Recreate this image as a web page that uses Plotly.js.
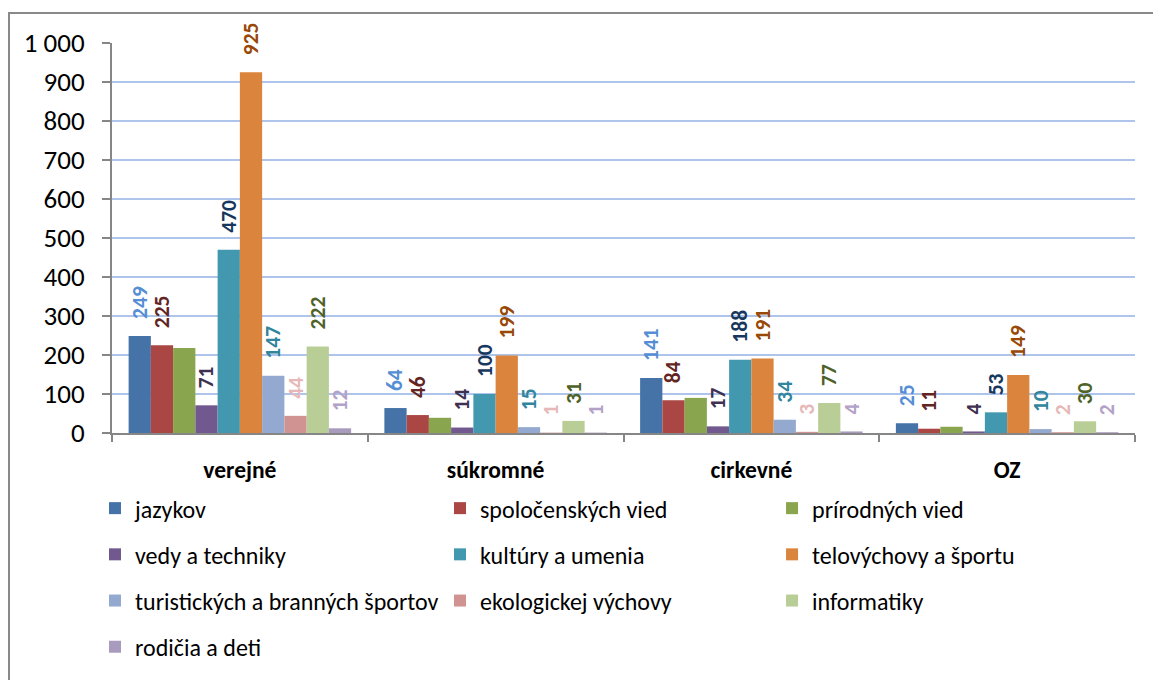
<!DOCTYPE html>
<html>
<head>
<meta charset="utf-8">
<script src="https://cdn.plot.ly/plotly-3.0.1.min.js"></script>
<style>
  html, body { margin: 0; padding: 0; background: #fff; }
  #wrap { position: relative; width: 1153px; height: 680px; overflow: hidden; }
  #chart { width: 1153px; height: 680px; }
  #frame { position: absolute; left: 8px; top: 12px; width: 1200px; height: 700px;
           border-left: 2px solid #898989; border-top: 2px solid #898989; pointer-events: none; }
</style>
</head>
<body>
<div id="wrap">
  <div id="chart"></div>
  <div id="frame"></div>
</div>
<script>
// ---- data ----
const categories = ['verejné', 'súkromné', 'cirkevné', 'OZ'];

const seriesNames = [
  'jazykov', 'spoločenských vied', 'prírodných vied',
  'vedy a techniky', 'kultúry a umenia', 'telovýchovy a športu',
  'turistických a branných športov', 'ekologickej výchovy', 'informatiky',
  'rodičia a deti'
];

const jazykov        = [249, 64, 141, 25];
const spolocenskych  = [225, 46, 84, 11];
const prirodnych     = [218, 39, 90, 16];
const vedy           = [71, 14, 17, 4];
const kultury        = [470, 100, 188, 53];
const telovychovy    = [925, 199, 191, 149];
const turistickych   = [147, 15, 34, 10];
const ekologickej    = [44, 1, 3, 2];
const informatiky    = [222, 31, 77, 30];
const rodicia        = [12, 1, 4, 2];

const seriesValues = [jazykov, spolocenskych, prirodnych, vedy, kultury,
                      telovychovy, turistickych, ekologickej, informatiky, rodicia];

// ---- styles ----
const barColors = ['#4572A7', '#AA4643', '#89A54E', '#71588F', '#4198AF',
                   '#DB843D', '#93A9CF', '#D19392', '#B9CD96', '#A99BBD'];
const labelColors = ['#558ED5', '#632523', null, '#3F3151', '#17375E',
                     '#984807', '#31859C', '#E6B9B8', '#4F6228', '#B3A2C7'];
const showLabel = [true, true, false, true, true, true, true, true, true, true];
// legend column per series (3 columns, filled row-wise)
const legendOf = ['legend', 'legend2', 'legend3', 'legend', 'legend2', 'legend3',
                  'legend', 'legend2', 'legend3', 'legend'];

const FONT = 'Carlito, Lato, "Liberation Sans", sans-serif';
const NB = '\u00A0\u00A0\u2009';

const traces = seriesNames.map((name, i) => ({
  type: 'bar',
  name: name,
  x: categories,
  y: seriesValues[i],
  marker: { color: barColors[i], line: { width: 0 } },
  texttemplate: showLabel[i] ? NB + '%{y}' : '',
  textposition: showLabel[i] ? 'outside' : 'none',
  textangle: -90,
  textfont: { family: FONT, size: 21.5, weight: 'bold', color: labelColors[i] || '#000' },
  cliponaxis: false,
  constraintext: 'none',
  legend: legendOf[i],
  legendgroup: name,
  hoverinfo: 'x+y+name'
}));

const legendBase = {
  orientation: 'v',
  xanchor: 'left',
  yanchor: 'top',
  y: -0.136,
  traceorder: 'grouped',
  tracegroupgap: 12,
  font: { family: FONT, size: 24, color: '#000' },
  bgcolor: 'rgba(0,0,0,0)',
  borderwidth: 0
};

const layout = {
  width: 1153,
  height: 680,
  margin: { l: 112, r: 18, t: 43, b: 247, autoexpand: false },
  paper_bgcolor: '#fff',
  plot_bgcolor: '#fff',
  separators: ', ',
  barmode: 'group',
  bargap: 0.13,
  bargroupgap: 0,
  font: { family: FONT, color: '#000' },
  xaxis: {
    type: 'category',
    showgrid: false,
    showline: true,
    linecolor: '#868686',
    linewidth: 2,
    ticks: 'outside',
    tickson: 'boundaries',
    ticklen: 7,
    tickwidth: 2,
    tickcolor: '#868686',
    ticklabelstandoff: 15,
    tickfont: { family: FONT, size: 23.5, weight: 'bold', color: '#000' },
    zeroline: false,
    automargin: false
  },
  yaxis: {
    range: [0, 1000],
    dtick: 100,
    tick0: 0,
    tickformat: ',d',
    showgrid: true,
    gridcolor: '#AFC4EA',
    gridwidth: 2,
    showline: true,
    linecolor: '#868686',
    linewidth: 2,
    ticks: 'outside',
    ticklen: 8,
    tickwidth: 2,
    tickcolor: '#868686',
    ticklabelstandoff: 12,
    tickfont: { family: FONT, size: 27, color: '#000' },
    zeroline: false,
    automargin: false,
    fixedrange: true
  },
  legend:  Object.assign({}, legendBase, { x: -0.0166 }),
  legend2: Object.assign({}, legendBase, { x: 0.3206 }),
  legend3: Object.assign({}, legendBase, { x: 0.6452 }),
  showlegend: true
};

const config = { displayModeBar: false, staticPlot: true };
Plotly.newPlot('chart', traces, layout, config)
  .then(gd => Plotly.redraw(gd));
</script>
</body>
</html>
